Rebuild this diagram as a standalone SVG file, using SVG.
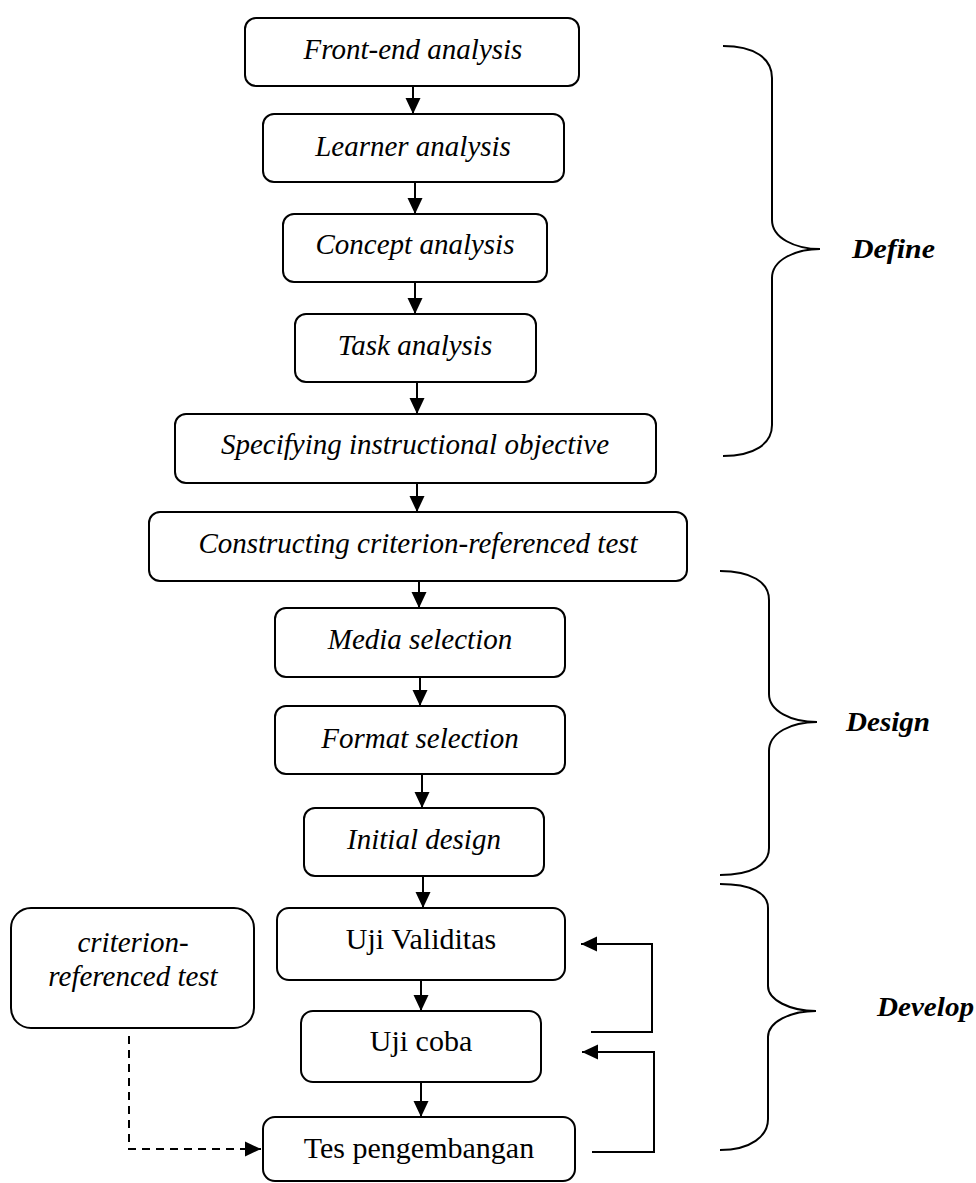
<svg xmlns="http://www.w3.org/2000/svg" width="976" height="1183" viewBox="0 0 976 1183">
<style>
.box{fill:#fff;stroke:#000;stroke-width:2}
.t{font-family:"Liberation Serif","Times New Roman",serif;font-size:29px;font-style:italic;text-anchor:middle;fill:#000}
.u{font-family:"Liberation Serif","Times New Roman",serif;font-size:30px;text-anchor:middle;fill:#000}
.ph{font-family:"Liberation Serif","Times New Roman",serif;font-size:27px;font-style:italic;font-weight:bold;fill:#000}
.c{fill:none;stroke:#000;stroke-width:2}
.d{fill:none;stroke:#000;stroke-width:2;stroke-dasharray:8,6}
.br{fill:none;stroke:#000;stroke-width:2}
</style>
<defs>
<marker id="ah" markerUnits="userSpaceOnUse" markerWidth="16" markerHeight="16" refX="16" refY="8" orient="auto">
<path d="M0,0.5 L16,8 L0,15.5 z" fill="#000"/>
</marker>
</defs>
<rect width="976" height="1183" fill="#fff"/>
<g id="connectors">
<line class="c" x1="413" y1="86" x2="413" y2="114" marker-end="url(#ah)"/>
<line class="c" x1="415" y1="182" x2="415" y2="214" marker-end="url(#ah)"/>
<line class="c" x1="415" y1="282" x2="415" y2="314" marker-end="url(#ah)"/>
<line class="c" x1="417" y1="382" x2="417" y2="414" marker-end="url(#ah)"/>
<line class="c" x1="417" y1="483" x2="417" y2="512" marker-end="url(#ah)"/>
<line class="c" x1="419" y1="581" x2="419" y2="608" marker-end="url(#ah)"/>
<line class="c" x1="420" y1="677" x2="420" y2="706" marker-end="url(#ah)"/>
<line class="c" x1="422" y1="774" x2="422" y2="808" marker-end="url(#ah)"/>
<line class="c" x1="423" y1="876" x2="423" y2="908" marker-end="url(#ah)"/>
<line class="c" x1="421" y1="980" x2="421" y2="1011" marker-end="url(#ah)"/>
<line class="c" x1="421" y1="1082" x2="421" y2="1117" marker-end="url(#ah)"/>
<polyline class="c" points="591,1032 652,1032 652,944 581,944" marker-end="url(#ah)"/>
<polyline class="c" points="592,1152 654,1152 654,1052 582,1052" marker-end="url(#ah)"/>
<polyline class="d" points="129,1036 129,1149 261,1149" marker-end="url(#ah)"/>
</g>
<g id="n-frontend"><rect class="box" x="245" y="18" width="334" height="68" rx="11"/><text class="t" x="413" y="59">Front-end analysis</text></g>
<g id="n-learner"><rect class="box" x="263" y="114" width="301" height="68" rx="11"/><text class="t" x="413" y="156">Learner analysis</text></g>
<g id="n-concept"><rect class="box" x="283" y="214" width="264" height="68" rx="11"/><text class="t" x="415" y="254">Concept analysis</text></g>
<g id="n-task"><rect class="box" x="295" y="314" width="241" height="68" rx="11"/><text class="t" x="415" y="355">Task analysis</text></g>
<g id="n-specifying"><rect class="box" x="175" y="414" width="481" height="69" rx="11"/><text class="t" x="415" y="454">Specifying instructional objective</text></g>
<g id="n-constructing"><rect class="box" x="149" y="512" width="538" height="69" rx="11"/><text class="t" x="418" y="553">Constructing criterion-referenced test</text></g>
<g id="n-media"><rect class="box" x="275" y="608" width="290" height="69" rx="11"/><text class="t" x="420" y="649">Media selection</text></g>
<g id="n-format"><rect class="box" x="275" y="706" width="290" height="68" rx="11"/><text class="t" x="420" y="748">Format selection</text></g>
<g id="n-initial"><rect class="box" x="304" y="808" width="240" height="68" rx="11"/><text class="t" x="424" y="849">Initial design</text></g>
<g id="n-validitas"><rect class="box" x="277" y="908" width="288" height="72" rx="12"/><text class="u" x="421" y="949">Uji Validitas</text></g>
<g id="n-ujicoba"><rect class="box" x="301" y="1011" width="240" height="71" rx="12"/><text class="u" x="421" y="1051">Uji coba</text></g>
<g id="n-tes"><rect class="box" x="263" y="1117" width="312" height="64" rx="12"/><text class="u" x="419" y="1158">Tes pengembangan</text></g>
<g id="n-criterion"><rect class="box" x="11" y="908" width="243" height="120" rx="20"/><text class="t" x="133" y="952">criterion-</text><text class="t" x="133" y="986">referenced test</text></g>
<g id="brace-define"><path class="br" d="M723,46 C754,46 772,58 772,78 L772,220 C772,238 795,249 820,249 C795,249 772,260 772,278 L772,425 C772,444 754,456 723,456"/><text class="ph" x="852" y="258" textLength="83" lengthAdjust="spacingAndGlyphs">Define</text></g>
<g id="brace-design"><path class="br" d="M720,571 C751,571 769,582 769,600 L769,694 C769,711 791,722 817,722 C791,722 769,733 769,751 L769,848 C769,865 751,875 720,875"/><text class="ph" x="846" y="731" textLength="84" lengthAdjust="spacingAndGlyphs">Design</text></g>
<g id="brace-develop"><path class="br" d="M720,884 C751,884 768,893 768,908 L768,986 C768,1000 790,1011 816,1011 C790,1011 768,1022 768,1037 L768,1119 C768,1136 751,1150 720,1150"/><text class="ph" x="877" y="1016" textLength="97" lengthAdjust="spacingAndGlyphs">Develop</text></g>
</svg>
